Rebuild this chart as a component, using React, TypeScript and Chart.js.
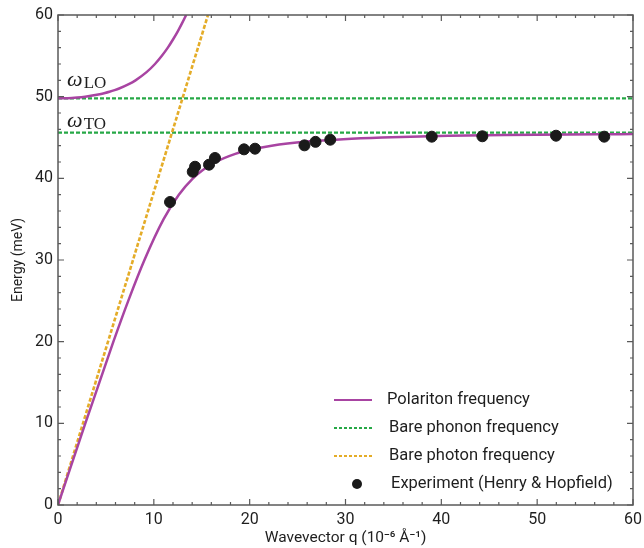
import { useEffect, useRef } from "react";
import { Chart, registerables } from "chart.js";

Chart.register(...registerables);

// Polariton lower branch (q in 1e-6 1/Å, energy in meV)
const lowerQ = [0, 2.85, 5.78, 7.33, 9.02, 11.02, 12.61, 14.08, 15.08, 16.45, 18.5, 20.03, 22.29, 25.96, 29.76, 33.82, 40.73, 46.6, 56.57, 60];
const lowerE = [0, 10, 20, 25, 30, 35, 38, 40, 41, 42, 43, 43.5, 44, 44.5, 44.8, 45, 45.2, 45.3, 45.4, 45.42];
// Polariton upper branch
const upperQ = [0, 1.43, 2.02, 2.83, 3.43, 4.35, 4.9, 5.37, 5.91, 6.38, 7.33, 8.09, 9.24, 10.12, 10.84, 11.46, 12.0, 12.5, 12.95, 13.37];
const upperE = [49.8, 49.85, 49.9, 50, 50.1, 50.3, 50.45, 50.6, 50.8, 51, 51.5, 52, 53, 54, 55, 56, 57, 58, 59, 60];
// Bare photon
const photonQ = [0, 15.65];
const photonE = [0, 60];
// Bare phonon levels
const phononQ = [0, 60];
const omegaLO = 49.8;
const omegaTO = 45.6;
// Experiment (Henry & Hopfield)
const expQ = [11.69, 14.06, 14.3, 15.76, 16.38, 19.41, 20.56, 25.72, 26.87, 28.41, 39.0, 44.28, 51.97, 57.0];
const expE = [37.1, 40.81, 41.42, 41.67, 42.49, 43.55, 43.63, 44.04, 44.47, 44.73, 45.1, 45.15, 45.22, 45.1];

const axisMin = 0;
const axisMax = 60;
const majorStep = 10;
const minorStep = 2;

const legendLabels = [
  "Polariton frequency",
  "Bare phonon frequency",
  "Bare photon frequency",
  "Experiment (Henry & Hopfield)",
];

const PURPLE = "rgb(168,68,162)";
const GREEN = "rgb(38,168,70)";
const GOLD = "rgb(228,172,40)";
const DOT = "#1a1a1a";
const AXIS = "#5a5a5a";
const TEXT = "#1e1e1e";
const SANS = "Roboto, 'Noto Sans', sans-serif";

const zip = (xs: number[], ys: number[]) => xs.map((x, i) => ({ x, y: ys[i] }));

const decorPlugin = {
  id: "decor",
  afterDatasetsDraw(chart: any) {
    const { ctx, chartArea, scales } = chart;
    const { left, right, top, bottom } = chartArea;
    const xs = scales.x;
    const ys = scales.y;
    ctx.save();
    // ticks (inward, all four sides)
    ctx.strokeStyle = AXIS;
    ctx.lineWidth = 1.2;
    ctx.beginPath();
    for (let v = axisMin; v <= axisMax; v += minorStep) {
      const len = v % majorStep === 0 ? 6 : 3;
      const px = xs.getPixelForValue(v);
      ctx.moveTo(px, bottom);
      ctx.lineTo(px, bottom - len);
      ctx.moveTo(px, top);
      ctx.lineTo(px, top + len);
      const py = ys.getPixelForValue(v);
      ctx.moveTo(left, py);
      ctx.lineTo(left + len, py);
      ctx.moveTo(right, py);
      ctx.lineTo(right - len, py);
    }
    ctx.stroke();
    // frame
    ctx.lineWidth = 1.5;
    ctx.strokeRect(left, top, right - left, bottom - top);

    // omega labels
    const drawOmega = (sub: string, yVal: number) => {
      const x0 = xs.getPixelForValue(0.95);
      const yb = ys.getPixelForValue(yVal);
      ctx.fillStyle = TEXT;
      ctx.textBaseline = "alphabetic";
      ctx.textAlign = "left";
      ctx.font = "italic 22px 'Liberation Serif', 'DejaVu Serif', serif";
      ctx.fillText("ω", x0, yb);
      const w = ctx.measureText("ω").width;
      ctx.font = "17px 'Liberation Serif', 'DejaVu Serif', serif";
      ctx.fillText(sub, x0 + w + 1, yb + 2);
    };
    drawOmega("LO", 51.25);
    drawOmega("TO", 46.25);

    // legend
    const lx0 = right - 299;
    const lx1 = right - 261;
    const rows = [bottom - 105, bottom - 77, bottom - 49, bottom - 21];
    ctx.lineWidth = 2.2;
    ctx.strokeStyle = PURPLE;
    ctx.setLineDash([]);
    ctx.beginPath();
    ctx.moveTo(lx0, rows[0]);
    ctx.lineTo(lx1, rows[0]);
    ctx.stroke();
    ctx.strokeStyle = GREEN;
    ctx.setLineDash([3, 2]);
    ctx.beginPath();
    ctx.moveTo(lx0, rows[1]);
    ctx.lineTo(lx1, rows[1]);
    ctx.stroke();
    ctx.strokeStyle = GOLD;
    ctx.beginPath();
    ctx.moveTo(lx0, rows[2]);
    ctx.lineTo(lx1, rows[2]);
    ctx.stroke();
    ctx.setLineDash([]);
    ctx.fillStyle = DOT;
    ctx.beginPath();
    ctx.arc(right - 276, rows[3], 5, 0, Math.PI * 2);
    ctx.fill();
    ctx.fillStyle = TEXT;
    ctx.font = `16.5px ${SANS}`;
    ctx.textBaseline = "middle";
    const textX = [right - 246, right - 244, right - 244, right - 242];
    legendLabels.forEach((t, i) => ctx.fillText(t, textX[i], rows[i]));
    ctx.restore();
  },
};

export default function App() {
  const ref = useRef<HTMLCanvasElement>(null);
  useEffect(() => {
    if (!ref.current) return;
    const chart = new Chart(ref.current, {
      type: "scatter",
      data: {
        datasets: [
          {
            label: "Experiment",
            data: zip(expQ, expE),
            backgroundColor: DOT,
            borderColor: DOT,
            pointRadius: 5.5,
            pointHoverRadius: 5.5,
            showLine: false,
            order: 0,
          } as any,
          {
            label: "Polariton lower",
            data: zip(lowerQ, lowerE),
            showLine: true,
            borderColor: PURPLE,
            borderWidth: 2.5,
            pointRadius: 0,
            cubicInterpolationMode: "monotone",
            order: 1,
          },
          {
            label: "Polariton upper",
            data: zip(upperQ, upperE),
            showLine: true,
            borderColor: PURPLE,
            borderWidth: 2.5,
            pointRadius: 0,
            cubicInterpolationMode: "monotone",
            order: 1,
          },
          {
            label: "Photon",
            data: zip(photonQ, photonE),
            showLine: true,
            borderColor: GOLD,
            borderWidth: 2.6,
            borderDash: [4, 2],
            pointRadius: 0,
            order: 2,
          },
          {
            label: "Phonon LO",
            data: phononQ.map((q) => ({ x: q, y: omegaLO })),
            showLine: true,
            borderColor: GREEN,
            borderWidth: 2.2,
            borderDash: [4, 2],
            pointRadius: 0,
            order: 3,
          },
          {
            label: "Phonon TO",
            data: phononQ.map((q) => ({ x: q, y: omegaTO })),
            showLine: true,
            borderColor: GREEN,
            borderWidth: 2.2,
            borderDash: [4, 2],
            pointRadius: 0,
            order: 3,
          },
        ],
      },
      options: {
        animation: false,
        responsive: false,
        events: [],
        layout: { padding: { top: 15, right: 11, left: 0, bottom: 0 } },
        plugins: { legend: { display: false }, tooltip: { enabled: false } },
        scales: {
          x: {
            type: "linear",
            min: axisMin,
            max: axisMax,
            grid: { display: false, drawTicks: false },
            border: { display: false },
            ticks: {
              stepSize: majorStep,
              padding: 5,
              color: TEXT,
              font: { family: SANS, size: 16 },
              maxRotation: 0,
            },
            title: {
              display: true,
              text: "Wavevector q (10⁻⁶ Å⁻¹)",
              color: TEXT,
              font: { family: SANS, size: 15.5 },
              padding: { top: 0, bottom: 1 },
            },
            afterFit: (s: any) => {
              s.height = 43;
              s.paddingLeft = 0;
              s.paddingRight = 0;
            },
          },
          y: {
            type: "linear",
            min: axisMin,
            max: axisMax,
            grid: { display: false, drawTicks: false },
            border: { display: false },
            ticks: {
              stepSize: majorStep,
              padding: 5,
              color: TEXT,
              font: { family: SANS, size: 16 },
            },
            title: {
              display: true,
              text: "Energy (meV)",
              color: TEXT,
              font: { family: SANS, size: 14 },
              padding: { top: 10, bottom: 0 },
            },
            afterFit: (s: any) => {
              s.width = 58;
              s.paddingTop = 0;
              s.paddingBottom = 0;
            },
          },
        },
      },
      plugins: [decorPlugin],
    });
    return () => chart.destroy();
  }, []);
  return (
    <div style={{ position: "fixed", left: 0, top: 0, width: 644, height: 548, background: "#fff" }}>
      <canvas ref={ref} width={644} height={548} />
    </div>
  );
}
